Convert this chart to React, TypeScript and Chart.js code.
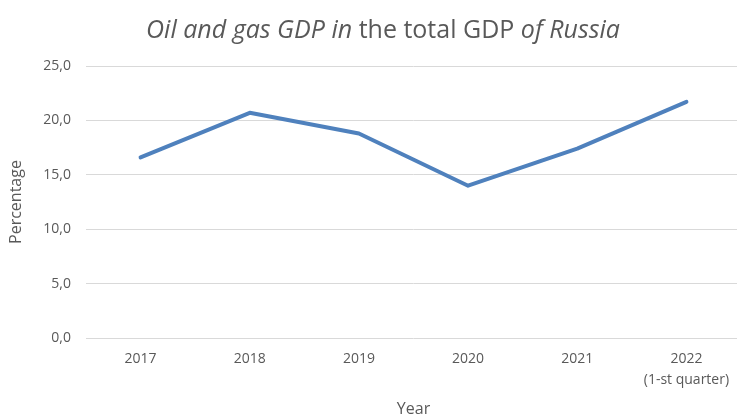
import React, { useEffect, useRef } from "react";
import { Chart, registerables } from "chart.js";

Chart.register(...registerables);

const categories: (string | string[])[] = ["2017", "2018", "2019", "2020", "2021", ["2022", "(1-st quarter)"]];
const oilGasShare: number[] = [16.6, 20.7, 18.8, 14.0, 17.4, 21.7];
const yTicks: number[] = [0, 5, 10, 15, 20, 25];
const titleParts: { text: string; italic: boolean }[] = [
  { text: "Oil and gas GDP in", italic: true },
  { text: " the total GDP ", italic: false },
  { text: "of Russia", italic: true },
];
const xTitle = "Year";
const yTitle = "Percentage";

const FONT = "'Open Sans', 'Noto Sans', sans-serif";
const TEXT = "#595959";
const GRID = "#d9d9d9";
const LINE = "#4f81bd";

const titlePlugin = {
  id: "mixedTitle",
  afterDraw(chart: any) {
    const ctx = chart.ctx as CanvasRenderingContext2D;
    const size = 25;
    ctx.save();
    ctx.fillStyle = TEXT;
    ctx.textBaseline = "alphabetic";
    ctx.textAlign = "left";
    const fonts = titleParts.map((p) => `${p.italic ? "italic " : ""}normal ${size}px ${FONT}`);
    let total = 0;
    const widths = titleParts.map((p, i) => {
      ctx.font = fonts[i];
      const w = ctx.measureText(p.text).width;
      total += w;
      return w;
    });
    let x = 383 - total / 2;
    titleParts.forEach((p, i) => {
      ctx.font = fonts[i];
      ctx.fillText(p.text, x, 38);
      x += widths[i];
    });
    ctx.restore();
  },
};

export default function App() {
  const ref = useRef<HTMLCanvasElement | null>(null);
  useEffect(() => {
    if (!ref.current) return;
    const chart = new Chart(ref.current, {
      type: "line",
      data: {
        labels: categories,
        datasets: [
          {
            data: oilGasShare,
            borderColor: LINE,
            backgroundColor: LINE,
            borderWidth: 4,
            pointRadius: 0,
            borderCapStyle: "round",
            borderJoinStyle: "round",
            tension: 0,
          },
        ],
      },
      options: {
        responsive: false,
        animation: false,
        layout: { padding: { top: 66, left: 0, right: 0, bottom: 0 } },
        plugins: {
          legend: { display: false },
          title: { display: false },
          tooltip: { enabled: false },
        },
        scales: {
          x: {
            type: "category",
            offset: true,
            grid: { display: false, drawTicks: false },
            border: { display: false },
            ticks: {
              color: TEXT,
              padding: 11,
              maxRotation: 0,
              autoSkip: false,
              font: { family: FONT, size: 14, lineHeight: 1.5 },
            },
            title: {
              display: true,
              text: xTitle,
              color: TEXT,
              padding: 0,
              font: { family: FONT, size: 16, lineHeight: 1.2 },
            },
            afterFit(scale: any) {
              scale.height = 81;
            },
          },
          y: {
            min: 0,
            max: 25,
            afterBuildTicks(scale: any) {
              scale.ticks = yTicks.map((v) => ({ value: v }));
            },
            grid: { color: GRID, lineWidth: 1, drawTicks: false },
            border: { display: false },
            ticks: {
              color: TEXT,
              padding: 15,
              font: { family: FONT, size: 14 },
              callback: (v: any) => Number(v).toFixed(1).replace(".", ","),
            },
            title: {
              display: true,
              text: yTitle,
              color: TEXT,
              padding: 7,
              font: { family: FONT, size: 16, lineHeight: 1.2 },
            },
            afterFit(scale: any) {
              scale.width = 86;
            },
          },
        },
      },
      plugins: [titlePlugin],
    });
    return () => chart.destroy();
  }, []);
  return (
    <div style={{ position: "fixed", left: 0, top: 0, width: 741, height: 419, background: "#fff" }}>
      <canvas ref={ref} width={741} height={419} style={{ display: "block" }} />
    </div>
  );
}
